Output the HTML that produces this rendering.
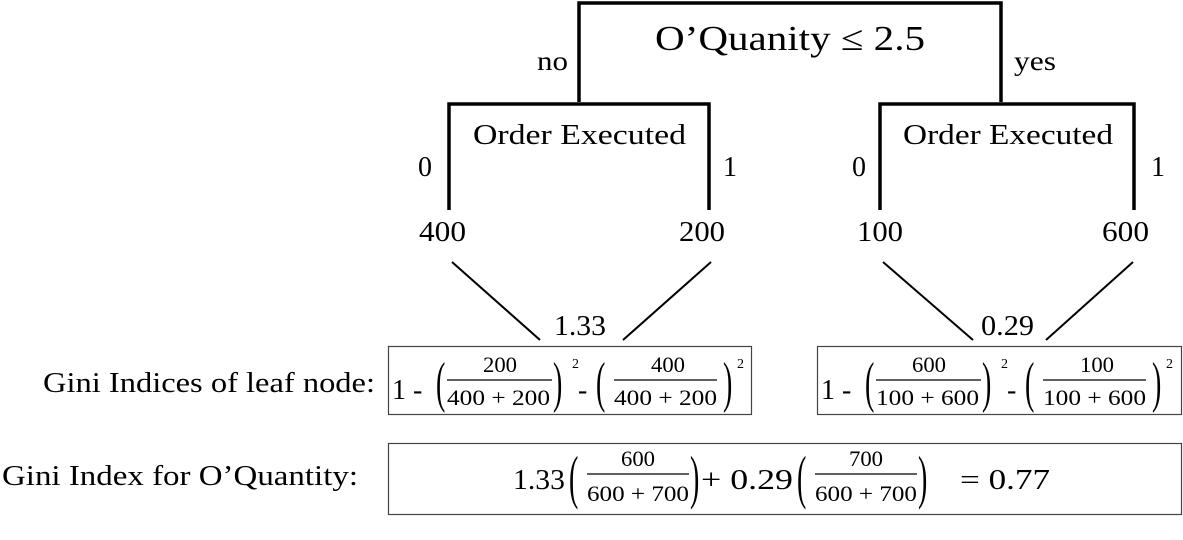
<!DOCTYPE html>
<html><head><meta charset="utf-8"><style>
html,body{margin:0;padding:0;background:#fff;}
svg{display:block;font-family:"Liberation Serif",serif;}
text{fill:#000;}
</style></head><body>
<svg width="1183" height="540" viewBox="0 0 1183 540">
<g stroke="#000" stroke-width="3.5" fill="none">
<path d="M579,102 V3 H1001 V102"/>
<path d="M449,210 V104 H709 V210"/>
<path d="M880,210 V104 H1134 V210"/>
</g>
<g stroke="#000" stroke-width="2">
<line x1="452" y1="262" x2="540" y2="340"/>
<line x1="711" y1="262" x2="623" y2="340"/>
<line x1="883" y1="262" x2="973" y2="340"/>
<line x1="1133" y1="262" x2="1046" y2="340"/>
</g>
<text x="655" y="50" font-size="35" textLength="270" lengthAdjust="spacingAndGlyphs">O’Quanity ≤ 2.5</text>
<text x="537" y="70" font-size="27" textLength="31" lengthAdjust="spacingAndGlyphs">no</text>
<text x="1014" y="70" font-size="27" textLength="42" lengthAdjust="spacingAndGlyphs">yes</text>
<text x="473" y="144" font-size="28" textLength="213" lengthAdjust="spacingAndGlyphs">Order Executed</text>
<text x="903" y="144" font-size="28" textLength="210" lengthAdjust="spacingAndGlyphs">Order Executed</text>
<g font-size="28">
<text x="418" y="176">0</text><text x="723" y="176">1</text>
<text x="852" y="176">0</text><text x="1151" y="176">1</text>
<text x="419" y="241" textLength="47" lengthAdjust="spacingAndGlyphs">400</text>
<text x="679" y="241" textLength="46" lengthAdjust="spacingAndGlyphs">200</text>
<text x="857" y="241" textLength="46" lengthAdjust="spacingAndGlyphs">100</text>
<text x="1102" y="241" textLength="47" lengthAdjust="spacingAndGlyphs">600</text>
<text x="554" y="335" textLength="52" lengthAdjust="spacingAndGlyphs">1.33</text>
<text x="981" y="335" textLength="53" lengthAdjust="spacingAndGlyphs">0.29</text>
</g>
<text x="43" y="392" font-size="28" textLength="332" lengthAdjust="spacingAndGlyphs">Gini Indices of leaf node:</text>
<text x="2" y="485" font-size="28" textLength="356" lengthAdjust="spacingAndGlyphs">Gini Index for O’Quantity:</text>
<g fill="none" stroke="#444" stroke-width="1.2">
<rect x="388.5" y="346.5" width="363" height="68"/>
<rect x="817.5" y="346.5" width="364" height="68"/>
<rect x="388.5" y="443.5" width="793" height="71"/>
</g>
<g>
<text x="392" y="399" font-size="28">1 -</text>
<text transform="translate(436,401) scale(1,2)" font-size="28">(</text>
<text x="483" y="372" font-size="22" textLength="34" lengthAdjust="spacingAndGlyphs">200</text>
<line x1="447" y1="380" x2="552" y2="380" stroke="#000" stroke-width="1.3"/>
<text x="447" y="405" font-size="22" textLength="103" lengthAdjust="spacingAndGlyphs">400 + 200</text>
<text transform="translate(553,401) scale(1,2)" font-size="28">)</text>
<text x="572" y="368" font-size="14">2</text>
<text x="578" y="399" font-size="28">-</text>
<text transform="translate(596,401) scale(1,2)" font-size="28">(</text>
<text x="651" y="372" font-size="22" textLength="34" lengthAdjust="spacingAndGlyphs">400</text>
<line x1="614" y1="380" x2="717" y2="380" stroke="#000" stroke-width="1.3"/>
<text x="614" y="405" font-size="22" textLength="103" lengthAdjust="spacingAndGlyphs">400 + 200</text>
<text transform="translate(723,401) scale(1,2)" font-size="28">)</text>
<text x="737" y="368" font-size="14">2</text>
</g>
<g>
<text x="821" y="399" font-size="28">1 -</text>
<text transform="translate(865,401) scale(1,2)" font-size="28">(</text>
<text x="912" y="372" font-size="22" textLength="34" lengthAdjust="spacingAndGlyphs">600</text>
<line x1="876" y1="380" x2="981" y2="380" stroke="#000" stroke-width="1.3"/>
<text x="876" y="405" font-size="22" textLength="103" lengthAdjust="spacingAndGlyphs">100 + 600</text>
<text transform="translate(982,401) scale(1,2)" font-size="28">)</text>
<text x="1001" y="368" font-size="14">2</text>
<text x="1007" y="399" font-size="28">-</text>
<text transform="translate(1025,401) scale(1,2)" font-size="28">(</text>
<text x="1080" y="372" font-size="22" textLength="34" lengthAdjust="spacingAndGlyphs">100</text>
<line x1="1043" y1="380" x2="1146" y2="380" stroke="#000" stroke-width="1.3"/>
<text x="1043" y="405" font-size="22" textLength="103" lengthAdjust="spacingAndGlyphs">100 + 600</text>
<text transform="translate(1152,401) scale(1,2)" font-size="28">)</text>
<text x="1166" y="368" font-size="14">2</text>
</g>
<g>
<text x="513" y="489" font-size="29" textLength="52" lengthAdjust="spacingAndGlyphs">1.33</text>
<text transform="translate(569,497) scale(1,2.1)" font-size="28">(</text>
<text x="621" y="466" font-size="22" textLength="34" lengthAdjust="spacingAndGlyphs">600</text>
<line x1="587" y1="474" x2="689" y2="474" stroke="#000" stroke-width="1.3"/>
<text x="587" y="501" font-size="22" textLength="102" lengthAdjust="spacingAndGlyphs">600 + 700</text>
<text transform="translate(690,497) scale(1,2.1)" font-size="28">)</text>
<text x="701" y="489" font-size="29" textLength="92" lengthAdjust="spacingAndGlyphs">+ 0.29</text>
<text transform="translate(797,497) scale(1,2.1)" font-size="28">(</text>
<text x="849" y="466" font-size="22" textLength="34" lengthAdjust="spacingAndGlyphs">700</text>
<line x1="815" y1="474" x2="917" y2="474" stroke="#000" stroke-width="1.3"/>
<text x="815" y="501" font-size="22" textLength="102" lengthAdjust="spacingAndGlyphs">600 + 700</text>
<text transform="translate(918,497) scale(1,2.1)" font-size="28">)</text>
<text x="960" y="489" font-size="29" textLength="90" lengthAdjust="spacingAndGlyphs">= 0.77</text>
</g>
</svg>
</body></html>
